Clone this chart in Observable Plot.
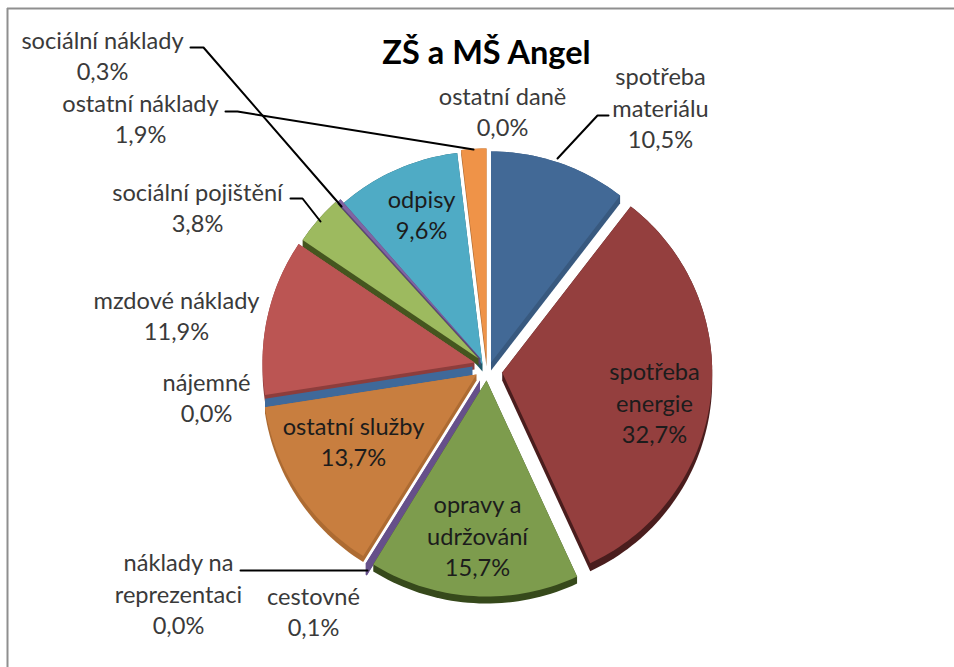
<!DOCTYPE html>
<html><head><meta charset="utf-8">
<script src="https://cdn.jsdelivr.net/npm/d3@7"></script>
<script src="https://cdn.jsdelivr.net/npm/@observablehq/plot@0.6"></script>
<style>html,body{margin:0;padding:0;background:#fff}svg{display:block}</style>
</head><body><div id="chart"></div>
<script>
// clockwise from 12 o'clock
const categories = ["spotřeba materiálu","spotřeba energie","opravy a udržování","náklady na reprezentaci","cestovné","ostatní služby","nájemné","mzdové náklady","sociální pojištění","sociální náklady","odpisy","ostatní náklady","ostatní daně"];
const values = [10.5,32.7,15.7,0.0,0.1,13.7,0.0,11.9,3.8,0.3,9.6,1.9,0.0];
const topColors = ["#426996","#943f3e","#7d9c4d","#66508a","#66508a","#c87e3f","#3f699a","#bb5553","#9dba5f","#8064a2","#4fabc5","#ef9348","#ef9348"];
const wallColors = ["#38597f","#4a1d1d","#36491b","#66508a","#66508a","#ad6b32","#3f699a","#8d3d3c","#45561f","#5a4578","#1f5868","#a86730","#a86730"];
// layout of the exploded slices, per category
const apexX = [490.5,501.7,486,479.5,479.5,476,472,474,478,480,482,486,486];
const apexY = [362,372,380,380,380,374,366,362,358,358,364,361,361];
const radius = [211,210,216,216,216,214,210,212,212,212,213,213,213];
const depth = [8,8,7,11,11,6,9,7,7,7,7,5,5];
const paintOrder = [11,12,0,10,9,8,7,6,5,4,3,2,1];
// label layout (centre of the text block)
const labelLines = [["spotřeba","materiálu"],["spotřeba","energie"],["opravy a","udržování"],["náklady na","reprezentaci"],["cestovné"],["ostatní služby"],["nájemné"],["mzdové náklady"],["sociální pojištění"],["sociální náklady"],["odpisy"],["ostatní náklady"],["ostatní daně"]];
const labelX = [660,654,477,178,313,353,206,176,197,102,421,140,502];
const labelY = [106,401,534,592,610,440,396,314,206,54,213,117,110];
const inside = [false,true,true,false,false,true,false,false,false,false,true,false,false];
const leaders = [
  [[608,115],[597,115],[557,158]],
  [[240,570],[367,570]],
  [[290,198],[302,198],[320,221]],
  [[190,47],[203,47],[341,206]],
  [[225,111],[237,111],[473,149]]
];
const chartTitle = "ZŠ a MŠ Angel";
const frameColor = "#8f8f8f";

const total = d3.sum(values);
const cum = d3.cumsum(values);
const polys = [];
function slicePoints(i){
  const a0 = (i ? cum[i-1] : 0)/total*360, a1 = cum[i]/total*360;
  const pts = [[apexX[i],apexY[i]]];
  const n = Math.max(2, Math.ceil((a1-a0)/1.5)+1);
  for (let k=0;k<n;k++){
    const t = (a0+(a1-a0)*k/(n-1))*Math.PI/180;
    pts.push([apexX[i]+radius[i]*Math.sin(t), apexY[i]-radius[i]*Math.cos(t)]);
  }
  return pts;
}
paintOrder.forEach(i=>{
  const p = slicePoints(i);
  const hull = d3.polygonHull(p.concat(p.map(([x,y])=>[x,y+depth[i]])));
  hull.forEach(([x,y])=>polys.push({id:"w"+i,x,y,c:wallColors[i]}));
  p.forEach(([x,y])=>polys.push({id:"t"+i,x,y,c:topColors[i]}));
});
const fmt = v => v.toFixed(1).replace(".",",")+"%";
const labels = categories.map((c,i)=>({
  text: labelLines[i].concat(fmt(values[i])).join("\n"),
  x: labelX[i], y: labelY[i], fill: inside[i] ? "#1c1c1c" : "#3a3a3a"
}));
const leaderPts = leaders.flatMap((l,i)=>l.map(([x,y])=>({i,x,y})));

const plot = Plot.plot({
  width:954,height:667,margin:0,
  x:{domain:[0,954],range:[0,954],axis:null},
  y:{domain:[0,667],range:[0,667],axis:null},
  color:{type:"identity"},
  style:{background:"#fff",fontFamily:"Lato, Carlito, sans-serif"},
  marks:[
    Plot.ruleX([7],{y1:8,y2:667,stroke:frameColor,strokeWidth:2}),
    Plot.ruleY([8],{x1:7,x2:954,stroke:frameColor,strokeWidth:2}),
    Plot.line(polys,{x:"x",y:"y",z:"id",fill:"c",stroke:"none",curve:"linear"}),
    Plot.line(leaderPts,{x:"x",y:"y",z:"i",stroke:"#000",strokeWidth:2,curve:"linear"}),
    Plot.text(labels,{x:"x",y:"y",text:"text",fill:"fill",fontSize:23.6,lineHeight:1.33,textAnchor:"middle",lineAnchor:"middle"}),
    Plot.text([chartTitle],{x:486,y:53,text:d=>d,fontSize:32.5,fontWeight:"bold",fill:"#000",textAnchor:"middle",lineAnchor:"middle"})
  ]
});
document.getElementById("chart").append(plot);
</script></body></html>
